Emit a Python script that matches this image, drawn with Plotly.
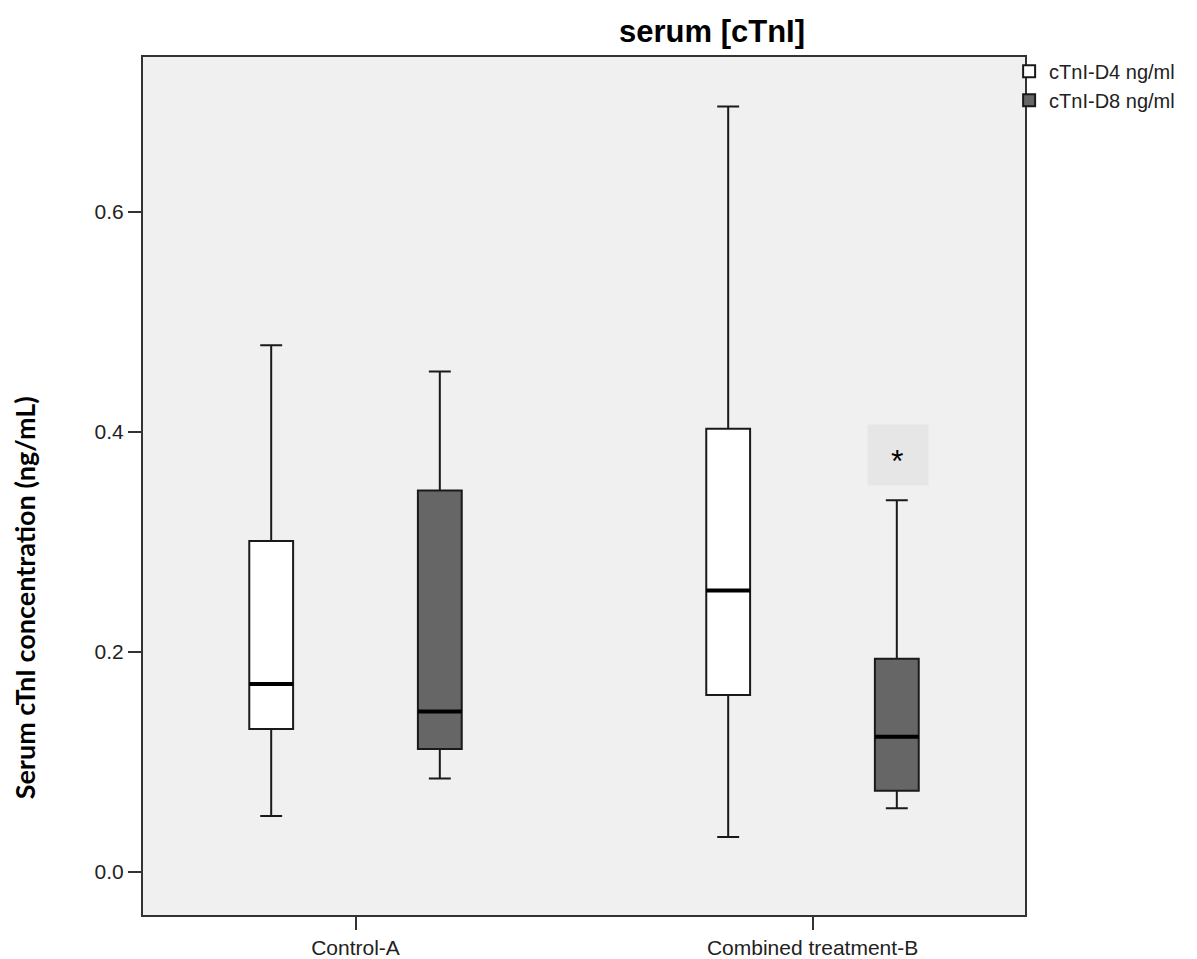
import plotly.graph_objects as go

categories = ["Control-A", "Combined treatment-B"]
series_names = ["cTnI-D4 ng/ml", "cTnI-D8 ng/ml"]

# D4 (day 4) box statistics
d4_low = [0.051, 0.032]
d4_q1 = [0.130, 0.161]
d4_median = [0.171, 0.256]
d4_q3 = [0.301, 0.403]
d4_high = [0.479, 0.696]

# D8 (day 8) box statistics
d8_low = [0.085, 0.058]
d8_q1 = [0.112, 0.074]
d8_median = [0.146, 0.123]
d8_q3 = [0.347, 0.194]
d8_high = [0.455, 0.338]

y_ticks = [0.0, 0.2, 0.4, 0.6]
star_value = 0.379

fills = ["#ffffff", "#666666"]
stats = [
    (d4_low, d4_q1, d4_median, d4_q3, d4_high),
    (d8_low, d8_q1, d8_median, d8_q3, d8_high),
]

fig = go.Figure()
for i, (name, (lo, q1, med, q3, hi)) in enumerate(zip(series_names, stats)):
    fig.add_trace(go.Box(
        name=name, x=categories, q1=q1, median=med, q3=q3,
        lowerfence=lo, upperfence=hi,
        fillcolor=fills[i], line=dict(color="#1a1a1a", width=2),
        whiskerwidth=0.5, boxpoints=False,
        offsetgroup=f"g{i}",
    ))
    # thicker median line overlay
    fig.add_trace(go.Box(
        name=name, x=categories, q1=med, median=med, q3=med,
        lowerfence=med, upperfence=med,
        fillcolor="rgba(0,0,0,0)", line=dict(color="#000000", width=4),
        whiskerwidth=0, boxpoints=False, showlegend=False, hoverinfo="skip",
        offsetgroup=f"g{i}",
    ))

# shaded label box and asterisk
fig.add_annotation(
    x=categories[1], y=star_value, xref="x", yref="y", xshift=85,
    text=" ", showarrow=False, font=dict(family="Arial", size=20, color="#000"),
    bgcolor="#e6e6e6", width=58, height=58,
)
fig.add_annotation(
    x=categories[1], y=star_value, xref="x", yref="y", xshift=84, yshift=-6,
    text="*", showarrow=False, font=dict(family="Arial", size=32, color="#000"),
)

fig.add_annotation(
    x=-0.134, y=0.37, xref="paper", yref="paper",
    text="<b>Serum cTnI concentration (ng/mL)</b>", textangle=-90,
    showarrow=False, xanchor="center", yanchor="middle",
    font=dict(family="Lato", size=27, color="#000"),
)

fig.update_layout(
    width=1197, height=959,
    margin=dict(l=135, r=180, t=49, b=52, autoexpand=False),
    paper_bgcolor="#ffffff", plot_bgcolor="#f0f0f0",
    boxmode="group", boxgap=0.262, boxgroupgap=0.74,
    title=dict(text="<b>serum [cTnI]</b>", x=704 / 1197, xref="container", xanchor="center",
               y=1 - 23 / 959, yref="container", yanchor="middle",
               font=dict(family="Arial", size=31, color="#000")),
    font=dict(family="Arial", size=21, color="#222"),
    legend=dict(x=0.982, y=1.006, xanchor="left", yanchor="top",
                bgcolor="rgba(0,0,0,0)", font=dict(family="Arial", size=20, color="#222"),
                itemwidth=30, tracegroupgap=0),
    xaxis=dict(type="category", range=[-0.465, 1.465], showgrid=False, automargin=False,
               showline=True, mirror=True, linecolor="#333", linewidth=2,
               ticks="outside", ticklen=13, tickwidth=2, tickcolor="#333",
               tickfont=dict(family="Arial", size=21, color="#222")),
    yaxis=dict(range=[-0.039, 0.741], showgrid=False, zeroline=False, automargin=False,
               tickvals=y_ticks, tickformat=".1f",
               showline=True, mirror=True, linecolor="#333", linewidth=2,
               ticks="outside", ticklen=13, tickwidth=2, tickcolor="#333",
               tickfont=dict(family="Arial", size=21, color="#222")),
)

fig.write_html("out.html")
